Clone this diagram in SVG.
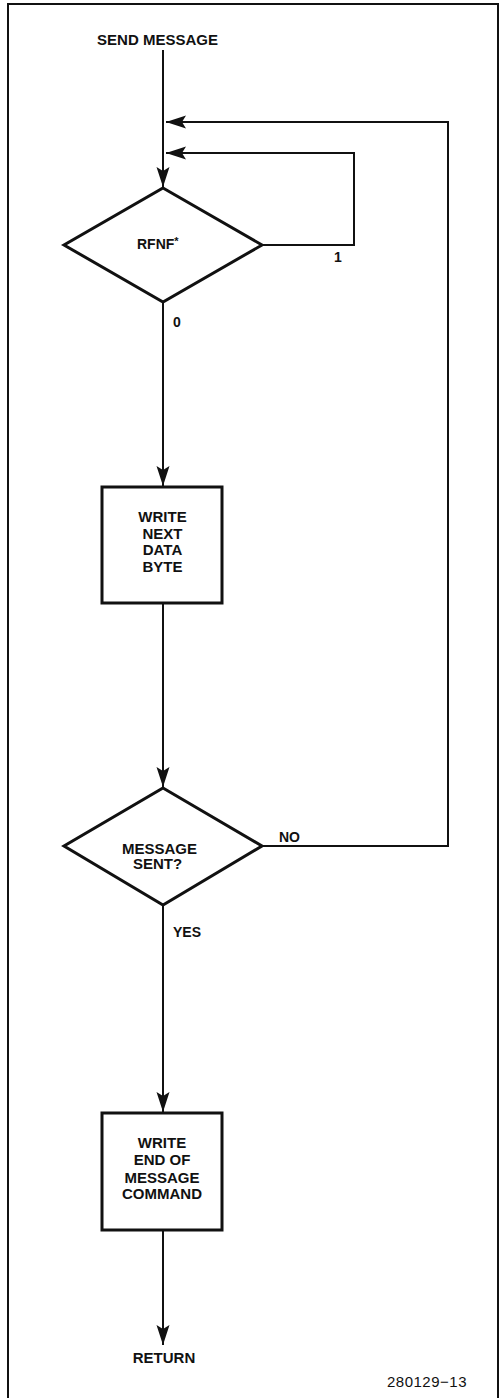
<svg xmlns="http://www.w3.org/2000/svg" width="500" height="1398" viewBox="0 0 500 1398">
<style>
.t{font-family:"Liberation Sans",Arial,sans-serif;font-weight:bold;font-size:15px;fill:#111;text-anchor:middle}
.l{font-family:"Liberation Sans",Arial,sans-serif;font-weight:bold;font-size:14px;fill:#111}
.f{font-family:"Liberation Sans",Arial,sans-serif;font-size:15px;letter-spacing:0.5px;fill:#111;text-anchor:end}
.c{fill:none;stroke:#111;stroke-width:2}
.s{fill:#fff;stroke:#111;stroke-width:3}
</style>
<defs>
<marker id="ah" markerUnits="userSpaceOnUse" markerWidth="22" markerHeight="14" refX="20" refY="7" orient="auto" viewBox="0 0 22 14">
<path d="M0,0.5 L20,7 L0,13.5 L4,7 z" fill="#111"/>
</marker>
</defs>
<rect width="500" height="1398" fill="#fff"/>
<path d="M8,1398 V4 H498 V1398" fill="none" stroke="#111" stroke-width="2"/>
<g id="connectors">
<path class="c" d="M163,50 V187" marker-end="url(#ah)"/>
<path class="c" d="M263,245 H354 V153 H166" marker-end="url(#ah)"/>
<path class="c" d="M263,846 H448 V122 H166" marker-end="url(#ah)"/>
<path class="c" d="M163,302 V486" marker-end="url(#ah)"/>
<path class="c" d="M163,603 V787" marker-end="url(#ah)"/>
<path class="c" d="M163,905 V1112" marker-end="url(#ah)"/>
<path class="c" d="M163,1230 V1345" marker-end="url(#ah)"/>
<text class="l" x="173" y="327">0</text>
<text class="l" x="334" y="262">1</text>
<text class="l" x="279" y="842">NO</text>
<text class="l" x="173" y="937">YES</text>
</g>
<g id="start">
<text class="t" x="157.5" y="45">SEND MESSAGE</text>
</g>
<g id="rfnf">
<polygon class="s" points="163,188 262,245 163,302 64,245"/>
<text class="l" x="137" y="249">RFNF<tspan font-size="11" dy="-4">*</tspan></text>
</g>
<g id="write-next">
<rect class="s" x="102" y="487" width="120" height="116"/>
<text class="t" x="162.5" y="522">WRITE</text>
<text class="t" x="162.5" y="538.5">NEXT</text>
<text class="t" x="162.5" y="555">DATA</text>
<text class="t" x="162.5" y="571.5">BYTE</text>
</g>
<g id="message-sent">
<polygon class="s" points="163,788 262,846 163,905 64,846"/>
<text class="t" x="159.5" y="854">MESSAGE</text>
<text class="t" x="157.5" y="869">SENT?</text>
</g>
<g id="write-end">
<rect class="s" x="102" y="1113" width="120" height="117"/>
<text class="t" x="162" y="1148">WRITE</text>
<text class="t" x="162" y="1165">END OF</text>
<text class="t" x="162" y="1182.5">MESSAGE</text>
<text class="t" x="162" y="1199">COMMAND</text>
</g>
<g id="return">
<text class="t" x="164" y="1363">RETURN</text>
</g>
<text class="f" x="467" y="1387">280129−13</text>
</svg>
